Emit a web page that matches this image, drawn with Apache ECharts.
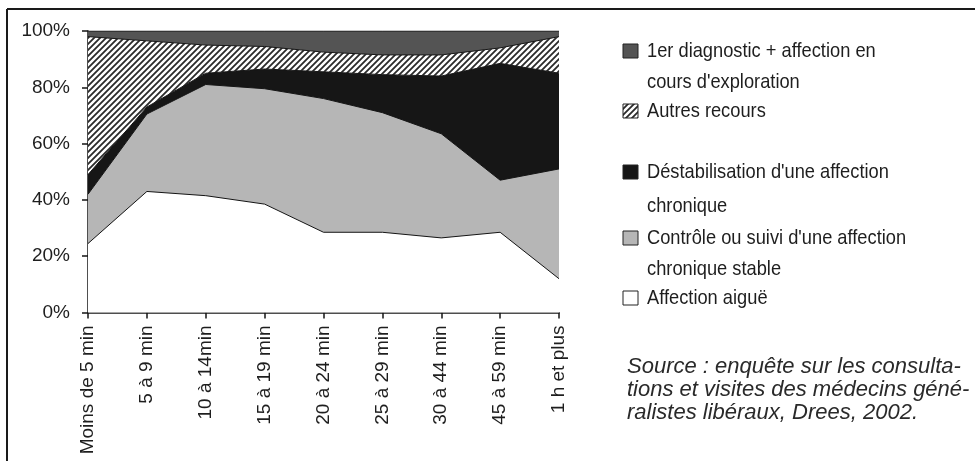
<!DOCTYPE html>
<html>
<head>
<meta charset="utf-8">
<script src="https://cdn.jsdelivr.net/npm/echarts@6/dist/echarts.min.js"></script>
<style>
html,body{margin:0;padding:0;background:#fff;}
#chart{width:975px;height:461px;}
</style>
</head>
<body>
<div id="chart"></div>
<script>
// ---- data ----
var categories = ['Moins de 5 min','5 à 9 min','10 à 14min','15 à 19 min','20 à 24 min','25 à 29 min','30 à 44 min','45 à 59 min','1 h et plus'];
var aigue      = [24.5, 43, 41.5, 38.5, 28.5, 28.5, 26.5, 28.5, 12];
var controle   = [17.5, 27.5, 39.5, 41, 47.5, 42.5, 37, 18.5, 39];
var destab     = [7, 2.5, 4, 7, 9.5, 13.5, 20.5, 41.5, 34];
var autres     = [49, 23.5, 10, 8, 7, 7, 7.5, 5.5, 13];
var diagnostic = [2, 3.5, 5, 5.5, 7.5, 8.5, 8.5, 6, 2];
var yTicks = [0, 20, 40, 60, 80, 100];
var legendLines = [
  ["1er diagnostic + affection en", "cours d'exploration"],
  ["Autres recours"],
  ["Déstabilisation d'une affection", "chronique"],
  ["Contrôle ou suivi d'une affection", "chronique stable"],
  ["Affection aiguë"]
];
var sourceLines = ["Source : enquête sur les consulta-", "tions et visites des médecins géné-", "ralistes libéraux, Drees, 2002."];

// ---- styles ----
function hatch() {
  var c = document.createElement('canvas');
  c.width = 6; c.height = 6;
  var g = c.getContext('2d');
  g.fillStyle = '#ffffff'; g.fillRect(0,0,6,6);
  g.strokeStyle = '#2a2a2a'; g.lineWidth = 1.8;
  g.beginPath();
  g.moveTo(-1,7); g.lineTo(7,-1);
  g.moveTo(-4,4); g.lineTo(4,-4);
  g.moveTo(2,10); g.lineTo(10,2);
  g.stroke();
  return c;
}
var hatchPattern = {image: hatch(), repeat: 'repeat'};
var fills = ['#ffffff', '#b6b6b6', '#161616', hatchPattern, '#545454'];
var seriesData = [aigue, controle, destab, autres, diagnostic];
var names = ['Affection aiguë', 'Contrôle ou suivi', 'Déstabilisation', 'Autres recours', '1er diagnostic'];
var sans = '"Liberation Sans", Arial, sans-serif';

var chart = echarts.init(document.getElementById('chart'), null, {renderer: 'canvas'});

var series = seriesData.map(function (d, i) {
  return {
    name: names[i], type: 'line', stack: 'total', data: d,
    showSymbol: false, symbol: 'none',
    lineStyle: {color: '#151515', width: 1},
    areaStyle: {color: fills[i], opacity: 1},
    z: 2
  };
});

var graphics = [];
// frame
graphics.push({type:'line', shape:{x1:7,y1:9,x2:975,y2:9}, style:{stroke:'#1a1a1a', lineWidth:2}});
graphics.push({type:'line', shape:{x1:7,y1:9,x2:7,y2:461}, style:{stroke:'#1a1a1a', lineWidth:2}});
var legendOrder = [4, 3, 2, 1, 0];
var lineY = [[51, 82], [111], [172, 206], [238, 269], [298]];
legendLines.forEach(function (lines, k) {
  var si = legendOrder[k];
  graphics.push({type:'rect', shape:{x:623, y:lineY[k][0]-7, width:15, height:14},
    style:{fill: fills[si], stroke:'#222', lineWidth:1}});
  lines.forEach(function (t, j) {
    graphics.push({type:'text', x:647, y:lineY[k][j], scaleX: 0.87, originX: 0, originY: 0,
      style:{text:t, font:'21px ' + sans, fill:'#1e1e1e', textVerticalAlign:'middle', verticalAlign:'middle'}});
  });
});
sourceLines.forEach(function (t, j) {
  graphics.push({type:'text', x:627, y:367 + j*23,
    style:{text:t, font:'italic 22px ' + sans, fill:'#2a2a2a', verticalAlign:'middle', textVerticalAlign:'middle'}});
});

chart.setOption({
  animation: false,
  backgroundColor: '#ffffff',
  grid: {left: 88, right: 416, top: 31, bottom: 148.5, containLabel: false},
  xAxis: {
    type: 'category', data: categories, boundaryGap: false,
    axisLine: {lineStyle: {color: '#151515', width: 1.5}},
    axisTick: {show: true, length: 6, lineStyle: {color: '#151515', width: 1.5}},
    axisLabel: {rotate: 90, margin: 13, fontSize: 19, color: '#1e1e1e', fontFamily: sans, interval: 0},
    splitLine: {show: false}
  },
  yAxis: {
    type: 'value', min: yTicks[0], max: yTicks[yTicks.length-1], interval: 20,
    axisLine: {show: true, lineStyle: {color: '#151515', width: 1.5}},
    axisTick: {show: true, length: 6, lineStyle: {color: '#151515', width: 1.5}},
    axisLabel: {formatter: '{value}%', margin: 18, fontSize: 19, color: '#1e1e1e', fontFamily: sans},
    splitLine: {show: false}
  },
  series: series,
  graphic: graphics
});
</script>
</body>
</html>
